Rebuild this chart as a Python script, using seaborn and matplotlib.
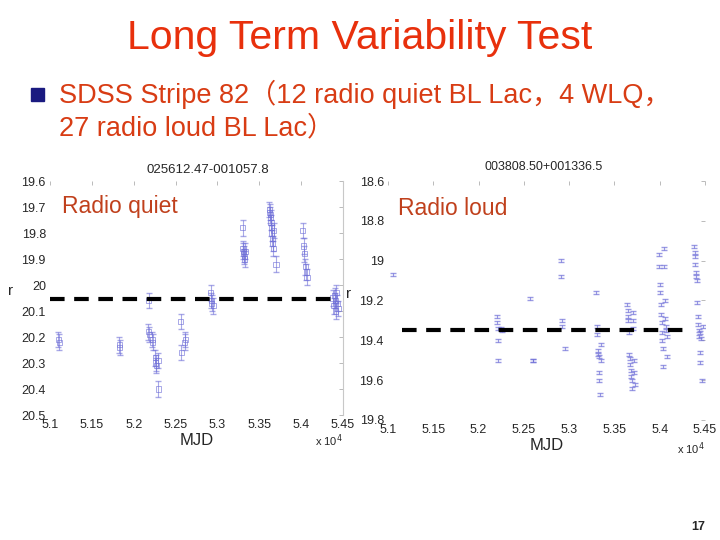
import numpy as np
import pandas as pd
import matplotlib
matplotlib.use('Agg')
import matplotlib.pyplot as plt
import seaborn as sns

sns.set_style('white')
plt.rcParams['font.family'] = ['Liberation Sans', 'Noto Sans CJK SC', 'DejaVu Sans']

# left panel: radio quiet source, MJD and r magnitude
quiet_mjd = [51100, 51110, 51830, 51835, 52180, 52175, 52185, 52220, 52225, 52260, 52265, 52270,
             52290, 52295, 52570, 52560, 52610, 52615, 52920, 52925, 52930, 52950,
             53300, 53305, 53310, 53315, 53320, 53325, 53330,
             53620, 53625, 53630, 53635, 53640, 53645, 53650, 53655, 53660, 53665, 53670, 53700,
             54020, 54030, 54040, 54050, 54060, 54070,
             54380, 54390, 54400, 54410, 54415, 54420, 54430, 54440]
quiet_r = [20.21, 20.22, 20.23, 20.24, 20.06, 20.18, 20.19, 20.21, 20.22, 20.28, 20.30, 20.31,
           20.29, 20.40, 20.26, 20.14, 20.22, 20.21, 20.03, 20.06, 20.07, 20.08,
           19.78, 19.86, 19.87, 19.88, 19.89, 19.90, 19.87,
           19.71, 19.72, 19.73, 19.74, 19.76, 19.78, 19.80, 19.82, 19.84, 19.86, 19.79, 19.92,
           19.79, 19.85, 19.88, 19.93, 19.95, 19.97,
           20.05, 20.08, 20.04, 20.06, 20.10, 20.03, 20.07, 20.09]
quiet_err = 0.03
quiet_mean = 20.055

# right panel: radio loud source
loud_mjd = [51050, 52200, 52205, 52210, 52215, 52220, 52250, 52255, 52570, 52600, 52605,
            52910, 52915, 52920, 52925, 52950,
            53300, 53305, 53310, 53315, 53320, 53325, 53330, 53335, 53340, 53350, 53355,
            53640, 53645, 53650, 53655, 53660, 53665, 53670, 53675, 53680, 53685, 53690, 53695,
            53700, 53705, 53710, 53715, 53720, 53725,
            53990, 53995, 54000, 54005, 54010, 54015, 54020, 54025, 54030, 54035, 54040,
            54045, 54050, 54055, 54060, 54065, 54070, 54075, 54080,
            54380, 54385, 54390, 54395, 54400, 54405, 54410, 54415, 54420, 54425,
            54430, 54435, 54440, 54445, 54450, 54460, 54470, 54480]
loud_r = [19.07, 19.28, 19.31, 19.34, 19.40, 19.50, 19.34, 19.35, 19.19, 19.50, 19.50,
          19.00, 19.08, 19.30, 19.33, 19.44,
          19.16, 19.33, 19.37, 19.45, 19.47, 19.48, 19.56, 19.60, 19.67, 19.42, 19.50,
          19.22, 19.25, 19.28, 19.30, 19.36, 19.47, 19.49, 19.52, 19.55, 19.58, 19.60, 19.64,
          19.26, 19.30, 19.34, 19.50, 19.56, 19.62,
          18.97, 19.03, 19.12, 19.16, 19.22, 19.27, 19.31, 19.36, 19.40, 19.44, 19.53,
          18.94, 19.03, 19.20, 19.29, 19.33, 19.35, 19.38, 19.48,
          18.93, 18.96, 18.98, 19.02, 19.06, 19.08, 19.10, 19.21, 19.28, 19.32,
          19.35, 19.38, 19.36, 19.46, 19.51, 19.39, 19.60, 19.33]
loud_err = 0.008
loud_mean = 19.35

xticks = [51000, 51500, 52000, 52500, 53000, 53500, 54000, 54500]
xticklabels = ['5.1', '5.15', '5.2', '5.25', '5.3', '5.35', '5.4', '5.45']

pt_col = '#7070d8'
lab_col = '#c0401c'

fig = plt.figure(figsize=(7.2, 5.4), dpi=100)
fig.text(0.5, 0.93, 'Long Term Variability Test', ha='center', va='center',
         fontsize=29.5, color='#e8300c')
fig.patches.append(plt.Rectangle((0.043, 0.813), 0.018, 0.024, transform=fig.transFigure,
                                 color='#1a1a80'))
fig.text(0.082, 0.825, 'SDSS Stripe 82（12 radio quiet BL Lac，4 WLQ，', ha='left', va='center',
         fontsize=19.5, color='#d83c14')
fig.text(0.082, 0.763, '27 radio loud BL Lac）', ha='left', va='center',
         fontsize=19.5, color='#d83c14')
fig.text(0.98, 0.025, '17', ha='right', va='center', fontsize=9, fontweight='bold')

ax1 = fig.add_axes([50/720, 1-415/540, 293/720, 234/540])
ax2 = fig.add_axes([388/720, 1-420/540, 317/720, 239/540])

quiet = pd.DataFrame({'mjd': quiet_mjd, 'r': quiet_r})
loud = pd.DataFrame({'mjd': loud_mjd, 'r': loud_r})

ax1.errorbar(quiet['mjd'], quiet['r'], yerr=quiet_err, fmt='none', ecolor=pt_col,
             elinewidth=0.8, capsize=2.5, alpha=0.6)
sns.scatterplot(data=quiet, x='mjd', y='r', ax=ax1, marker='s', s=14, facecolor='none',
                edgecolor=pt_col, linewidth=0.7, alpha=0.6)
ax1.plot([51000, 54420], [quiet_mean, quiet_mean], color='black', lw=3, ls=(0, (3.5, 2.3)))
ax1.set_xlim(51000, 54500)
ax1.set_ylim(20.5, 19.6)
ax1.set_yticks([19.6, 19.7, 19.8, 19.9, 20, 20.1, 20.2, 20.3, 20.4, 20.5])
ax1.set_yticklabels(['19.6', '19.7', '19.8', '19.9', '20', '20.1', '20.2', '20.3', '20.4', '20.5'])
ax1.set_title('025612.47-001057.8', fontsize=9.5, pad=6, x=0.54)
ax1.text(0.04, 0.89, 'Radio quiet', transform=ax1.transAxes, fontsize=16.5, color=lab_col,
         va='center')

ax2.errorbar(loud['mjd'], loud['r'], yerr=loud_err, fmt='none', ecolor=pt_col,
             elinewidth=0.8, capsize=2.5, alpha=0.7)
ax2.plot([51150, 54300], [loud_mean, loud_mean], color='black', lw=3, ls=(0, (3.5, 2.3)))
ax2.set_xlim(51000, 54500)
ax2.set_ylim(19.8, 18.6)
ax2.set_yticks([18.6, 18.8, 19, 19.2, 19.4, 19.6, 19.8])
ax2.set_yticklabels(['18.6', '18.8', '19', '19.2', '19.4', '19.6', '19.8'])
ax2.set_title('003808.50+001336.5', fontsize=9, pad=8, x=0.49)
ax2.text(0.03, 0.887, 'Radio loud', transform=ax2.transAxes, fontsize=16.5, color=lab_col,
         va='center')

for ax in (ax1, ax2):
    ax.set_xticks(xticks)
    ax.set_xticklabels(xticklabels)
    ax.tick_params(direction='in', length=3, width=0.6, color='#b0b0b0', top=True, right=True,
                   labelsize=9, pad=3)
    ax.set_ylabel('r', rotation=0, fontsize=11, labelpad=8)
    ax.set_xlabel('MJD', fontsize=12, labelpad=1)
    for s in ax.spines.values():
        s.set_visible(False)
ax1.spines['right'].set_visible(True)
ax1.spines['right'].set_color('#c8c8c8')
ax1.text(1.0, -0.11, 'x 10$^4$', transform=ax1.transAxes, fontsize=8, ha='right', va='center')
ax2.text(1.0, -0.12, 'x 10$^4$', transform=ax2.transAxes, fontsize=8, ha='right', va='center')

fig.savefig('out.png', dpi=100)
